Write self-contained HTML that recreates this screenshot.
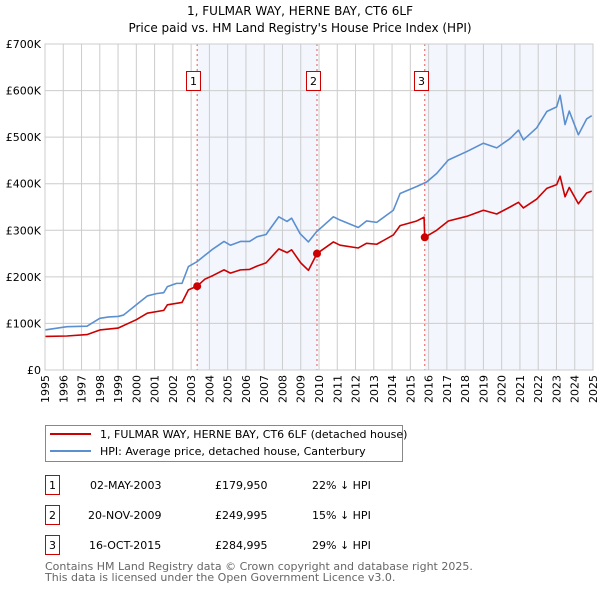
<!DOCTYPE html>
<html><head><meta charset="utf-8"><style>
body{margin:0;background:#fff;font-family:"DejaVu Sans","Liberation Sans",sans-serif;}
svg text{font-family:"DejaVu Sans","Liberation Sans",sans-serif;}
</style></head><body>
<svg id="chart" width="600" height="590" xmlns="http://www.w3.org/2000/svg">
<text x="300" y="15" text-anchor="middle" font-size="12">1, FULMAR WAY, HERNE BAY, CT6 6LF</text>
<text x="300" y="32" text-anchor="middle" font-size="12">Price paid vs. HM Land Registry's House Price Index (HPI)</text>
<g id="plot"></g>
<g>
<rect x="45.5" y="425.5" width="357" height="36" fill="#fff" stroke="#888"/>
<line x1="50" y1="434" x2="91" y2="434" stroke="#cc0000" stroke-width="2"/>
<text x="100" y="438" font-size="11">1, FULMAR WAY, HERNE BAY, CT6 6LF (detached house)</text>
<line x1="50" y1="451" x2="91" y2="451" stroke="#5b8fd0" stroke-width="2"/>
<text x="100" y="455" font-size="11">HPI: Average price, detached house, Canterbury</text>
</g>
<g font-size="11">
<rect x="45.5" y="475.5" width="14" height="19" fill="#fff" stroke="#cc0000"/><text x="52.5" y="489" text-anchor="middle">1</text>
<text x="90" y="489">02-MAY-2003</text><text x="215" y="489">£179,950</text><text x="312" y="489">22% ↓ HPI</text>
<rect x="45.5" y="505.5" width="14" height="19" fill="#fff" stroke="#cc0000"/><text x="52.5" y="519" text-anchor="middle">2</text>
<text x="88" y="519">20-NOV-2009</text><text x="215" y="519">£249,995</text><text x="312" y="519">15% ↓ HPI</text>
<rect x="45.5" y="535.5" width="14" height="19" fill="#fff" stroke="#cc0000"/><text x="52.5" y="549" text-anchor="middle">3</text>
<text x="89" y="549">16-OCT-2015</text><text x="215" y="549">£284,995</text><text x="312" y="549">29% ↓ HPI</text>
</g>
<text x="45" y="570" font-size="11" fill="#666">Contains HM Land Registry data © Crown copyright and database right 2025.</text>
<text x="45" y="581" font-size="11" fill="#666">This data is licensed under the Open Government Licence v3.0.</text>
</svg>
<script>
const hpiYears=[1995,1996.2,1997.3,1998,1998.5,1999,1999.3,2000,2000.6,2001.1,2001.5,2001.7,2002.2,2002.5,2002.85,2003.3,2003.75,2004.2,2004.8,2005.15,2005.7,2006.2,2006.6,2007.1,2007.8,2008.25,2008.5,2008.96,2009.42,2009.87,2010.79,2011.15,2012.15,2012.6,2013.16,2014.07,2014.44,2015.35,2015.9,2016.44,2017.08,2018.09,2019,2019.73,2020.46,2020.92,2021.19,2021.92,2022.47,2023.01,2023.2,2023.47,2023.7,2024.2,2024.65,2024.93];
const hpiValues=[86,93,94,111,114,115,118,140,159,164,166,179,186,186,222,232,246,260,276,268,276,276,286,291,329,319,326,293,275,297,329,322,306,320,317,343,379,394,404,422,451,469,487,477,497,515,494,520,555,565,590,527,556,505,539,546];
const priceYears=[1995,1996.2,1997.3,1998,1999,2000,2000.6,2001.5,2001.7,2002.5,2002.85,2003.33,2003.75,2004.2,2004.8,2005.15,2005.7,2006.2,2006.6,2007.1,2007.8,2008.25,2008.5,2009.0,2009.42,2009.89,2010.79,2011.15,2012.15,2012.6,2013.16,2014.07,2014.44,2015.35,2015.75,2015.79,2016.44,2017.08,2018.09,2019,2019.73,2020.46,2020.92,2021.19,2021.92,2022.47,2023.01,2023.2,2023.47,2023.7,2024.2,2024.65,2024.93];
const priceValues=[72,73,76,86,90,108,122,128,140,145,172,180,195,203,215,208,215,216,223,230,260,252,258,230,214,250,275,268,262,272,270,290,310,320,328,285,300,320,330,343,335,350,360,348,367,390,398,416,372,392,357,380,384];
const saleYears=[2003.33,2009.89,2015.79];
const saleValues=[179.95,249.995,284.995];
const saleLabels=["1","2","3"];
const yTicks=[0,100,200,300,400,500,600,700];
const yTickLabels=["£0","£100K","£200K","£300K","£400K","£500K","£600K","£700K"];
const xTicks=[1995,1996,1997,1998,1999,2000,2001,2002,2003,2004,2005,2006,2007,2008,2009,2010,2011,2012,2013,2014,2015,2016,2017,2018,2019,2020,2021,2022,2023,2024,2025];

const L=45,R=593,T=44,B=370,x0=1995,x1=2025,ymax=700;
const X=v=>L+(v-x0)/(x1-x0)*(R-L);
const Y=v=>B-v/ymax*(B-T);
const NS="http://www.w3.org/2000/svg";
const g=document.getElementById('plot');
function mk(tag,attrs,parent){const e=document.createElementNS(NS,tag);for(const k in attrs)e.setAttribute(k,attrs[k]);(parent||g).appendChild(e);return e;}
let s1=mk('rect',{x:X(saleYears[0]),y:T,width:X(saleYears[1])-X(saleYears[0]),height:B-T,fill:'#f3f6fd'});


let s2=mk('rect',{x:X(saleYears[2]),y:T,width:R-X(saleYears[2]),height:B-T,fill:'#f3f6fd'});


yTicks.forEach((v,i)=>{
  let l=mk('line',{x1:L,x2:R,y1:Y(v),y2:Y(v),stroke:'#ccc'});
  
  
  let t=mk('text',{x:L-4,y:Y(v)+4,'text-anchor':'end','font-size':11});
  
  
  t.textContent=yTickLabels[i];
});
xTicks.forEach(v=>{
  let l=mk('line',{x1:X(v),x2:X(v),y1:T,y2:B,stroke:'#ccc'});
  
  
  const tx=X(v)+4, ty=B+5;
  let t=mk('text',{x:tx,y:ty,'text-anchor':'end','font-size':11,transform:'rotate(-90,'+tx+','+ty+')'});
  
  
  t.textContent=v;
});
saleYears.forEach((v,i)=>{
  let l=mk('line',{x1:X(v),x2:X(v),y1:T,y2:B,stroke:'#e55','stroke-dasharray':'2,3','stroke-width':1});
  
  
  let r=mk('rect',{x:Math.round(X(v))-10.5,y:71.5,width:14,height:19,fill:'#fff',stroke:'#cc0000'});
  
  
  let t=mk('text',{x:Math.round(X(v))-3.5,y:85,'text-anchor':'middle','font-size':11});
  
  
  t.textContent=saleLabels[i];
});
function line(xs,ys,color,name){
  let p=mk('polyline',{points:xs.map((x,i)=>X(x)+','+Y(ys[i])).join(' '),fill:'none',stroke:color,'stroke-width':1.6,'stroke-linejoin':'round'});
  
  
}
line(hpiYears,hpiValues,'#5b8fd0','hpi-line');
line(priceYears,priceValues,'#cc0000','price-paid-line');
saleYears.forEach((v,i)=>{
  let c=mk('circle',{cx:X(v),cy:Y(saleValues[i]),r:4,fill:'#cc0000'});
  
  
});
let ax=mk('rect',{x:L,y:T,width:R-L,height:B-T,fill:'none',stroke:'#ccc'});


</script>
</body></html>
